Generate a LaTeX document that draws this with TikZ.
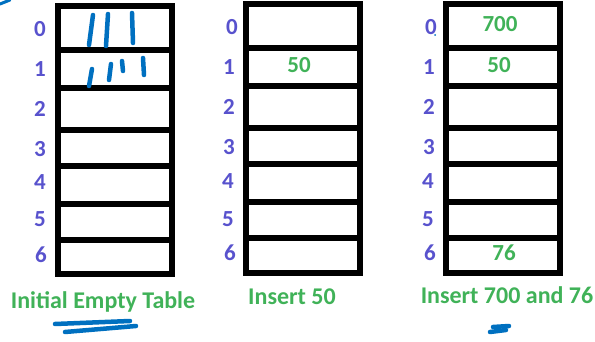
\documentclass[tikz,border=0pt]{standalone}
\usepackage{fontspec}
\setmainfont{Carlito}
\definecolor{idxcol}{RGB}{88,82,205}
\definecolor{grn}{RGB}{64,178,88}
\definecolor{pen}{RGB}{0,112,192}
\begin{document}
\begin{tikzpicture}[x=1pt,y=-1pt,
  cell/.style={draw=black,line width=6pt,fill=white,inner sep=0pt,minimum width=114pt},
  idx/.style={anchor=base,text=idxcol,font=\fontsize{23}{26}\selectfont\bfseries,inner sep=0pt},
  val/.style={anchor=base,text=grn,font=\fontsize{23}{26}\selectfont\bfseries,inner sep=0pt},
  captxt/.style={anchor=base,text=grn,font=\fontsize{24}{28}\selectfont\bfseries,inner sep=0pt},
  ink/.style={draw=pen,line width=4.5pt,line cap=round}]
\useasboundingbox (0,0) rectangle (595,342);
% table 1
\node[cell,minimum height=44pt] (a0) at (115,28) {};
\node[cell,minimum height=38pt] (a1) at (115,69) {};
\node[cell,minimum height=42pt] (a2) at (115,109) {};
\node[cell,minimum height=36pt] (a3) at (115,148) {};
\node[cell,minimum height=38pt] (a4) at (115,185) {};
\node[cell,minimum height=36pt] (a5) at (115,222) {};
\node[cell,minimum height=34pt] (a6) at (115,257) {};
% table 2
\node[cell,minimum height=44pt] (b0) at (303,26) {};
\node[cell,minimum height=38pt] (b1) at (303,67) {};
\node[cell,minimum height=42pt] (b2) at (303,107) {};
\node[cell,minimum height=36pt] (b3) at (303,146) {};
\node[cell,minimum height=38pt] (b4) at (303,183) {};
\node[cell,minimum height=36pt] (b5) at (303,220) {};
\node[cell,minimum height=34.5pt] (b6) at (303,255.25) {};
% table 3
\node[cell,minimum height=44pt] (c0) at (503,26) {};
\node[cell,minimum height=38pt] (c1) at (503,67) {};
\node[cell,minimum height=42pt] (c2) at (503,107) {};
\node[cell,minimum height=36pt] (c3) at (503,146) {};
\node[cell,minimum height=38pt] (c4) at (503,183) {};
\node[cell,minimum height=36pt] (c5) at (503,220) {};
\node[cell,minimum height=34.5pt] (c6) at (503,255.25) {};
% indices
\node[idx] (ia0) at (40,37) {0};
\node[idx] (ia1) at (40,77) {1};
\node[idx] (ia2) at (40,117) {2};
\node[idx] (ia3) at (40,157) {3};
\node[idx] (ia4) at (40,190) {4};
\node[idx] (ia5) at (40,227) {5};
\node[idx] (ia6) at (41,262) {6};
\node[idx] (ib0) at (232,35) {0};
\node[idx] (ib1) at (229,75) {1};
\node[idx] (ib2) at (229,115) {2};
\node[idx] (ib3) at (229,155) {3};
\node[idx] (ib4) at (228,189) {4};
\node[idx] (ib5) at (228,226) {5};
\node[idx] (ib6) at (230,261) {6};
\node[idx] (ic0) at (431,35) {0};
\node[idx] (ic1) at (429,75) {1};
\node[idx] (ic2) at (429,115) {2};
\node[idx] (ic3) at (429,155) {3};
\node[idx] (ic4) at (428,189) {4};
\node[idx] (ic5) at (428,226) {5};
\node[idx] (ic6) at (430,261) {6};
% values
\node[val] (v1) at (299,73) {50};
\node[val] (v2) at (500,32) {700};
\node[val] (v3) at (499,73) {50};
\node[val] (v4) at (504,261) {76};
% captions
\node[captxt] (t1) at (103,308) {Initial Empty Table};
\node[captxt] (t2) at (292,305) {Insert 50};
\node[captxt] (t3) at (507,303) {Insert 700 and 76};
% hand-drawn ink
\draw[ink] (93,15) -- (89,45);
\draw[ink] (108,14) -- (106,46);
\draw[ink] (132,13) -- (133,43);
\draw[ink] (92,69) -- (89,86);
\draw[ink] (111,64) -- (109,80);
\draw[ink] (122,61) -- (123,71);
\draw[ink] (143,58) -- (144,75);
\draw[ink] (55,324) -- (130,321);
\draw[ink] (65,332) -- (136,326);
\draw[ink] (493,327) -- (509,326);
\draw[ink] (490,332) -- (506,330);
\draw[ink,line width=3pt] (0,4) -- (10,0);
\fill[pen] (435,35) circle (1pt);
\end{tikzpicture}
\end{document}
